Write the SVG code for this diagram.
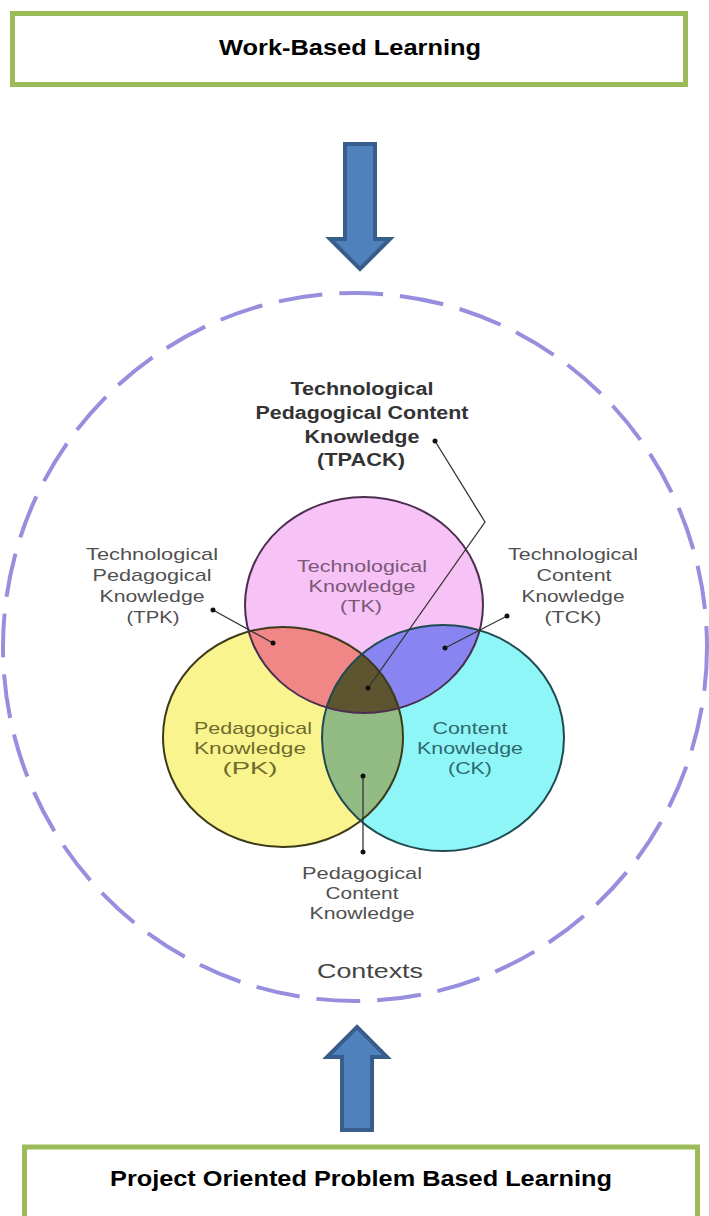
<svg xmlns="http://www.w3.org/2000/svg" width="709" height="1216" viewBox="0 0 709 1216">
<style>
.box{fill:#ffffff;stroke:#9bbb59;stroke-width:5}
.boxtext{font-family:"Liberation Sans",Arial,sans-serif;font-weight:bold;font-size:22px;fill:#000;text-anchor:middle}
.arrow{fill:#4f81bd;stroke:#385d8a;stroke-width:4;stroke-linejoin:miter}
.lbl{font-family:"Liberation Sans",Arial,sans-serif;font-size:17px;fill:#505050;text-anchor:middle}
.lblb{font-family:"Liberation Sans",Arial,sans-serif;font-size:18px;font-weight:bold;fill:#333;text-anchor:middle}
.lead{fill:none;stroke:#333;stroke-width:1.3}
.dot{fill:#111}
</style>
<defs>
<ellipse id="tk" cx="364" cy="605" rx="119" ry="108"/>
<ellipse id="pk" cx="283" cy="737" rx="120" ry="110"/>
<ellipse id="ck" cx="443" cy="738" rx="121" ry="113"/>
<clipPath id="clipTK"><use href="#tk"/></clipPath>
<clipPath id="clipPK"><use href="#pk"/></clipPath>
<clipPath id="clipCK"><use href="#ck"/></clipPath>
</defs>
<rect width="709" height="1216" fill="#ffffff"/>

<g id="node-wbl">
<rect class="box" x="12.5" y="13.5" width="673" height="71"/>
<text class="boxtext" x="350" y="55" textLength="262" lengthAdjust="spacingAndGlyphs">Work-Based Learning</text>
</g>

<g id="node-contexts">
<ellipse cx="355" cy="647" rx="352" ry="354" fill="none" stroke="#978fde" stroke-width="4" stroke-dasharray="44 17"/>
<text class="lbl" x="370" y="978" style="font-size:21px;fill:#444" textLength="106" lengthAdjust="spacingAndGlyphs">Contexts</text>
</g>

<g id="venn">
<g id="node-pk">
<use href="#pk" fill="#faf48e"/>
</g>
<g id="node-ck">
<use href="#ck" fill="#8ff6f8"/>
</g>
<g id="node-tk">
<use href="#tk" fill="#f7c2f6"/>
</g>
<use href="#tk" fill="#f18686" clip-path="url(#clipPK)"/>
<use href="#tk" fill="#8885f2" clip-path="url(#clipCK)"/>
<use href="#pk" fill="#93bc85" clip-path="url(#clipCK)"/>
<g clip-path="url(#clipTK)"><use href="#pk" fill="#5d5430" clip-path="url(#clipCK)"/></g>
<use href="#pk" fill="none" stroke="#3d3a1a" stroke-width="2"/>
<use href="#ck" fill="none" stroke="#1f4a50" stroke-width="2"/>
<use href="#tk" fill="none" stroke="#4a2f50" stroke-width="2"/>
</g>

<g id="node-tk-label">
<text class="lbl" x="362" y="572" style="fill:#7a5878" textLength="130" lengthAdjust="spacingAndGlyphs">Technological</text>
<text class="lbl" x="362" y="592" style="fill:#7a5878" textLength="107" lengthAdjust="spacingAndGlyphs">Knowledge</text>
<text class="lbl" x="361" y="612" style="fill:#7a5878" textLength="42" lengthAdjust="spacingAndGlyphs">(TK)</text>
</g>
<g id="node-pk-label">
<text class="lbl" x="253" y="734" style="fill:#6e6c2c" textLength="118" lengthAdjust="spacingAndGlyphs">Pedagogical</text>
<text class="lbl" x="250" y="754" style="fill:#6e6c2c" textLength="112" lengthAdjust="spacingAndGlyphs">Knowledge</text>
<text class="lbl" x="250" y="774" style="fill:#6e6c2c" textLength="55" lengthAdjust="spacingAndGlyphs">(PK)</text>
</g>
<g id="node-ck-label">
<text class="lbl" x="470" y="734" style="fill:#2e6a70" textLength="75" lengthAdjust="spacingAndGlyphs">Content</text>
<text class="lbl" x="470" y="754" style="fill:#2e6a70" textLength="106" lengthAdjust="spacingAndGlyphs">Knowledge</text>
<text class="lbl" x="470" y="774" style="fill:#2e6a70" textLength="44" lengthAdjust="spacingAndGlyphs">(CK)</text>
</g>

<g id="node-tpack">
<text class="lblb" x="362" y="395" textLength="143" lengthAdjust="spacingAndGlyphs">Technological</text>
<text class="lblb" x="362" y="419" textLength="213" lengthAdjust="spacingAndGlyphs">Pedagogical Content</text>
<text class="lblb" x="362" y="443" textLength="115" lengthAdjust="spacingAndGlyphs">Knowledge</text>
<text class="lblb" x="361" y="466" textLength="88" lengthAdjust="spacingAndGlyphs">(TPACK)</text>
</g>
<g id="node-tpk">
<text class="lbl" x="152" y="560" textLength="132" lengthAdjust="spacingAndGlyphs">Technological</text>
<text class="lbl" x="152" y="581" textLength="119" lengthAdjust="spacingAndGlyphs">Pedagogical</text>
<text class="lbl" x="152" y="602" textLength="105" lengthAdjust="spacingAndGlyphs">Knowledge</text>
<text class="lbl" x="153" y="623" textLength="53" lengthAdjust="spacingAndGlyphs">(TPK)</text>
</g>
<g id="node-tck">
<text class="lbl" x="573" y="560" textLength="130" lengthAdjust="spacingAndGlyphs">Technological</text>
<text class="lbl" x="574" y="581" textLength="75" lengthAdjust="spacingAndGlyphs">Content</text>
<text class="lbl" x="573" y="602" textLength="103" lengthAdjust="spacingAndGlyphs">Knowledge</text>
<text class="lbl" x="573" y="623" textLength="57" lengthAdjust="spacingAndGlyphs">(TCK)</text>
</g>
<g id="node-pck">
<text class="lbl" x="362" y="879" textLength="120" lengthAdjust="spacingAndGlyphs">Pedagogical</text>
<text class="lbl" x="362" y="899" textLength="73" lengthAdjust="spacingAndGlyphs">Content</text>
<text class="lbl" x="362" y="919" textLength="105" lengthAdjust="spacingAndGlyphs">Knowledge</text>
</g>

<g id="connectors">
<path class="arrow" d="M345,144 H375 V239 H390 L360,269 L330,239 H345 Z"/>
<path class="arrow" d="M357,1027 L387,1057 H372 V1130 H342 V1057 H327 Z"/>
<polyline class="lead" points="435,441 485,522 368,688"/>
<circle class="dot" cx="435" cy="441" r="2.5"/>
<circle class="dot" cx="368" cy="688" r="2.5"/>
<line class="lead" x1="213" y1="610" x2="273" y2="643"/>
<circle class="dot" cx="213" cy="610" r="2.5"/>
<circle class="dot" cx="273" cy="643" r="2.5"/>
<line class="lead" x1="507" y1="616" x2="445" y2="648"/>
<circle class="dot" cx="507" cy="616" r="2.5"/>
<circle class="dot" cx="445" cy="648" r="2.5"/>
<line class="lead" x1="363" y1="776" x2="363" y2="852"/>
<circle class="dot" cx="363" cy="776" r="2.5"/>
<circle class="dot" cx="363" cy="852" r="2.5"/>
</g>

<g id="node-popbl">
<rect class="box" x="24.5" y="1147" width="673" height="90"/>
<text class="boxtext" x="361" y="1186" textLength="502" lengthAdjust="spacingAndGlyphs">Project Oriented Problem Based Learning</text>
</g>
</svg>
